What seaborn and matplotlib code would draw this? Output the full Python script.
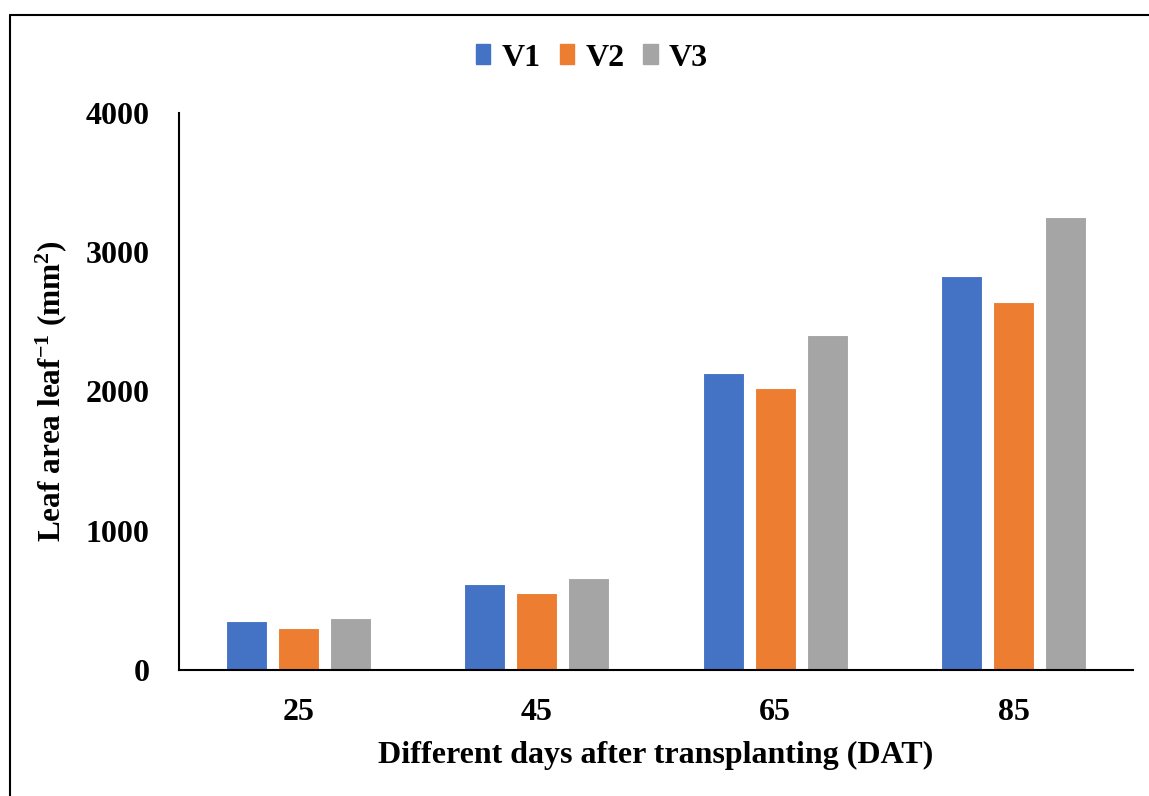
import matplotlib
matplotlib.use("Agg")
import matplotlib.pyplot as plt
import seaborn as sns
import pandas as pd
from matplotlib.lines import Line2D

days = ["25", "45", "65", "85"]
varieties = ["V1", "V2", "V3"]
v1 = [354, 620, 2133, 2829]
v2 = [299, 553, 2027, 2641]
v3 = [371, 663, 2406, 3255]
colors = ["#4472C4", "#ED7D31", "#A5A5A5"]

rows = []
for name, vals in zip(varieties, [v1, v2, v3]):
    for d, v in zip(days, vals):
        rows.append({"DAT": d, "Variety": name, "Leaf": v})
df = pd.DataFrame(rows)

sns.set_style("white")
plt.rcParams["font.family"] = ["Liberation Serif", "DejaVu Serif"]
plt.rcParams["font.weight"] = "bold"
plt.rcParams["text.color"] = "black"
plt.rcParams["axes.labelcolor"] = "black"
plt.rcParams["xtick.color"] = "black"
plt.rcParams["ytick.color"] = "black"
plt.rcParams["mathtext.fontset"] = "custom"
plt.rcParams["mathtext.rm"] = "Liberation Serif:bold"
plt.rcParams["mathtext.bf"] = "Liberation Serif:bold"
plt.rcParams["mathtext.it"] = "Liberation Serif:bold"

fig = plt.figure(figsize=(11.49, 7.96), dpi=100)
ax = fig.add_axes([179/1149, 1-670/796, (1133-179)/1149, (670-113)/796])

sns.barplot(data=df, x="DAT", y="Leaf", hue="Variety", order=days,
            hue_order=varieties, palette=colors, width=0.654, gap=0.21,
            edgecolor="white", linewidth=0.8, saturation=1, ax=ax, legend=False)

ax.set_ylim(0, 4000)
ax.set_xlim(-0.5, 3.5)
ax.set_yticks([0, 1000, 2000, 3000, 4000])
ax.tick_params(axis="both", length=0, labelsize=23, colors="black")
ax.tick_params(axis="y", pad=21)
ax.tick_params(axis="x", pad=20)
for lbl in ax.get_xticklabels() + ax.get_yticklabels():
    lbl.set_fontweight("bold")
for s in ["top", "right"]:
    ax.spines[s].set_visible(False)
for s in ["left", "bottom"]:
    ax.spines[s].set_color("black")
    ax.spines[s].set_linewidth(1.5)

ax.set_xlabel("Different days after transplanting (DAT)", fontsize=23,
              fontweight="bold", labelpad=10, color="black")
ax.set_ylabel(r"Leaf area leaf$^{-1}$ (mm$^{2}$)", fontsize=22.5,
              fontweight="bold", labelpad=12, color="black")

handles = [plt.Rectangle((0, 0), 1, 1, color=c) for c in colors]
fig.legend(handles, varieties, loc="center", bbox_to_anchor=(592/1149, 1-58/796),
           ncol=3, frameon=False, handlelength=0.45, handleheight=0.6,
           handletextpad=0.35, columnspacing=0.6,
           prop={"weight": "bold", "size": 23, "family": "Liberation Serif"})

# outer frame
fig.add_artist(Line2D([10/1149, 10/1149], [0, 1-15/796], transform=fig.transFigure,
                      color="black", linewidth=1.5))
fig.add_artist(Line2D([10/1149, 1], [1-15/796, 1-15/796], transform=fig.transFigure,
                      color="black", linewidth=1.5))

fig.savefig("out.png", dpi=100)
